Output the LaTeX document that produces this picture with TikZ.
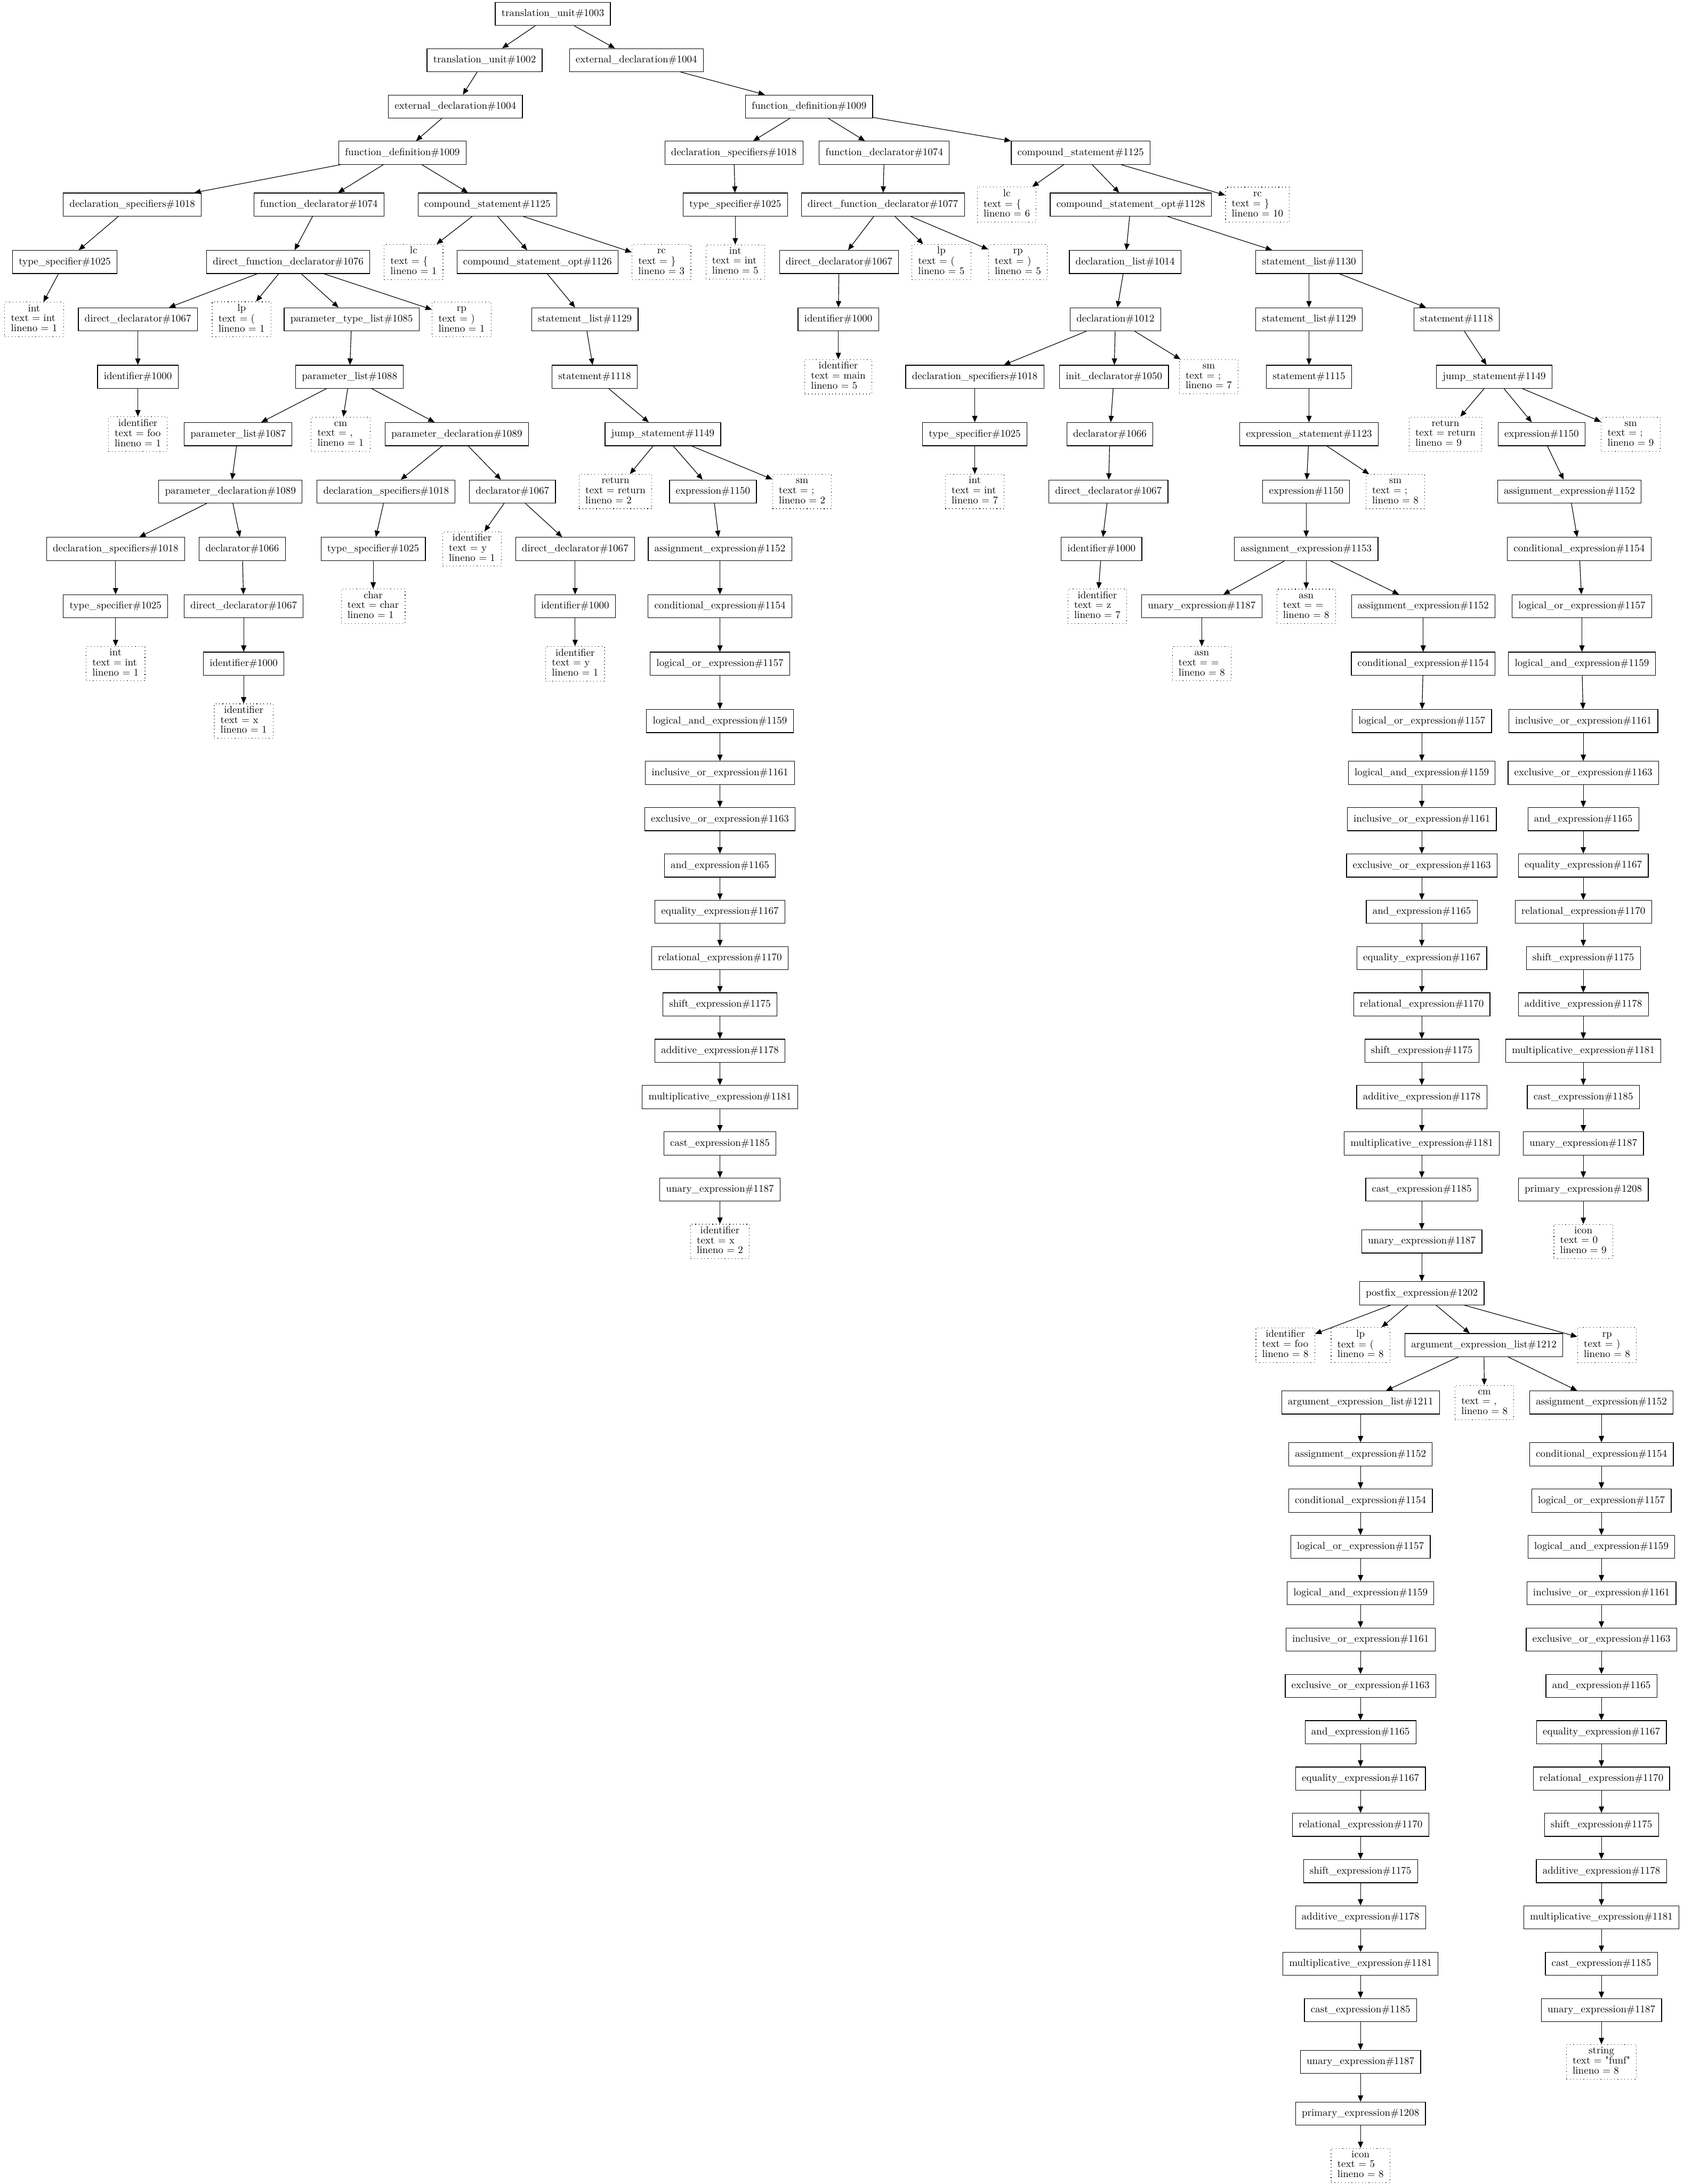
\documentclass[tikz,border=0pt]{standalone}
\usepackage{fontspec}
\usepackage{tikz}
\usetikzlibrary{arrows.meta}

\newfontfamily\nodefont{lmroman10-regular}[Extension=.otf]
\newcommand{\leaftext}[3]{\begin{tabular}{@{}l@{}}\multicolumn{1}{@{}c@{}}{#1}\\#2\\#3\end{tabular}}

\begin{document}
\begin{tikzpicture}[x=1pt, y=-1pt,
  tbox/.style={draw, line width=0.45pt, minimum height=16.6pt, minimum width=25pt,
    inner xsep=4.5pt, inner ysep=0pt, font=\nodefont\fontsize{7.3}{7.1}\selectfont},
  leaf/.style={draw, dotted, line width=0.45pt, minimum height=24.5pt, minimum width=25pt,
    inner xsep=4.5pt, inner ysep=1.6pt, font=\nodefont\fontsize{7.3}{7.1}\selectfont},
  arr/.style={-{Triangle[length=4.6pt,width=3.8pt]}, line width=0.45pt}]
\useasboundingbox (0,0) rectangle (1209,1568);

% top of the tree
\node[tbox] (tu3) at (397,10) {translation\_unit\#1003};
\node[tbox] (tu2) at (348,43.2) {translation\_unit\#1002};
\node[tbox] (edB) at (457,43.2) {external\_declaration\#1004};
\node[tbox] (edA) at (327,76.5) {external\_declaration\#1004};
\node[tbox] (fdB) at (581,76.5) {function\_definition\#1009};
\node[tbox] (fdA) at (289,109.7) {function\_definition\#1009};
\node[tbox] (dsB) at (527,109.7) {declaration\_specifiers\#1018};
\node[tbox] (fdcB) at (635,109.7) {function\_declarator\#1074};
\node[tbox] (csB) at (776,109.7) {compound\_statement\#1125};

\node[tbox] (dsA) at (95,146.9) {declaration\_specifiers\#1018};
\node[tbox] (fdcA) at (229,146.9) {function\_declarator\#1074};
\node[tbox] (csA) at (350,146.9) {compound\_statement\#1125};
\node[tbox] (tsB) at (528,146.9) {type\_specifier\#1025};
\node[tbox] (dfdB) at (634,146.9) {direct\_function\_declarator\#1077};
\node[leaf] (lcB) at (723,146.9) {\leaftext{lc}{text = \{}{lineno = 6}};
\node[tbox] (csoB) at (812,146.9) {compound\_statement\_opt\#1128};
\node[leaf] (rcB) at (903,146.9) {\leaftext{rc}{text = \}}{lineno = 10}};

\node[tbox] (tsA) at (46.5,188.1) {type\_specifier\#1025};
\node[tbox] (dfdA) at (207,188.1) {direct\_function\_declarator\#1076};
\node[leaf] (lcA) at (297,188.1) {\leaftext{lc}{text = \{}{lineno = 1}};
\node[tbox] (csoA) at (386,188.1) {compound\_statement\_opt\#1126};
\node[leaf] (rcA) at (475,188.1) {\leaftext{rc}{text = \}}{lineno = 3}};
\node[leaf] (intB) at (528,188.1) {\leaftext{int}{text = int}{lineno = 5}};
\node[tbox] (ddB) at (602.5,188.1) {direct\_declarator\#1067};
\node[leaf] (lpB) at (676,188.1) {\leaftext{lp}{text = (}{lineno = 5}};
\node[leaf] (rpB) at (731,188.1) {\leaftext{rp}{text = )}{lineno = 5}};
\node[tbox] (dlB) at (808,188.1) {declaration\_list\#1014};
\node[tbox] (slB) at (940,188.1) {statement\_list\#1130};

\node[leaf] (intA) at (24.5,229.3) {\leaftext{int}{text = int}{lineno = 1}};
\node[tbox] (ddA) at (99,229.3) {direct\_declarator\#1067};
\node[leaf] (lpA) at (173.5,229.3) {\leaftext{lp}{text = (}{lineno = 1}};
\node[tbox] (ptlA) at (252.5,229.3) {parameter\_type\_list\#1085};
\node[leaf] (rpA) at (331.5,229.3) {\leaftext{rp}{text = )}{lineno = 1}};
\node[tbox] (slA) at (420,229.3) {statement\_list\#1129};
\node[tbox] (idB) at (602,229.3) {identifier\#1000};
\node[tbox] (declB) at (801,229.3) {declaration\#1012};
\node[tbox] (slC) at (940,229.3) {statement\_list\#1129};
\node[tbox] (stC) at (1046,229.3) {statement\#1118};

\node[tbox] (idA) at (99,270.5) {identifier\#1000};
\node[tbox] (plA) at (251,270.5) {parameter\_list\#1088};
\node[tbox] (stA) at (427,270.5) {statement\#1118};
\node[leaf] (idmainB) at (602,270.5) {\leaftext{identifier}{text = main}{lineno = 5}};
\node[tbox] (dsD) at (700,270.5) {declaration\_specifiers\#1018};
\node[tbox] (initD) at (800,270.5) {init\_declarator\#1050};
\node[leaf] (smD) at (868,270.5) {\leaftext{sm}{text = ;}{lineno = 7}};
\node[tbox] (stD) at (940,270.5) {statement\#1115};
\node[tbox] (jsC) at (1073,270.5) {jump\_statement\#1149};

\node[leaf] (idfooA) at (99,311.7) {\leaftext{identifier}{text = foo}{lineno = 1}};
\node[tbox] (plA2) at (171,311.7) {parameter\_list\#1087};
\node[leaf] (cmA) at (244.6,311.7) {\leaftext{cm}{text = ,}{lineno = 1}};
\node[tbox] (pdA) at (328,311.7) {parameter\_declaration\#1089};
\node[tbox] (jsA) at (476,311.7) {jump\_statement\#1149};
\node[tbox] (tsD) at (700,311.7) {type\_specifier\#1025};
\node[tbox] (dclD) at (797,311.7) {declarator\#1066};
\node[tbox] (esD) at (940,311.7) {expression\_statement\#1123};
\node[leaf] (retC) at (1038,311.7) {\leaftext{return}{text = return}{lineno = 9}};
\node[tbox] (exC) at (1107,311.7) {expression\#1150};
\node[leaf] (smC) at (1171,311.7) {\leaftext{sm}{text = ;}{lineno = 9}};

\node[tbox] (pdA2) at (165.5,352.9) {parameter\_declaration\#1089};
\node[tbox] (dsA2) at (277.3,352.9) {declaration\_specifiers\#1018};
\node[tbox] (dclA) at (368,352.9) {declarator\#1067};
\node[leaf] (retA) at (442,352.9) {\leaftext{return}{text = return}{lineno = 2}};
\node[tbox] (exA) at (512,352.9) {expression\#1150};
\node[leaf] (smA) at (576,352.9) {\leaftext{sm}{text = ;}{lineno = 2}};
\node[leaf] (intD) at (700,352.9) {\leaftext{int}{text = int}{lineno = 7}};
\node[tbox] (ddD) at (796,352.9) {direct\_declarator\#1067};
\node[tbox] (exD) at (938,352.9) {expression\#1150};
\node[leaf] (smD2) at (1002,352.9) {\leaftext{sm}{text = ;}{lineno = 8}};

\node[tbox] (dsA3) at (83,394.1) {declaration\_specifiers\#1018};
\node[tbox] (dclA2) at (174,394.1) {declarator\#1066};
\node[tbox] (tsA2) at (268,394.1) {type\_specifier\#1025};
\node[leaf] (idyA) at (339,394.1) {\leaftext{identifier}{text = y}{lineno = 1}};
\node[tbox] (ddA2) at (413,394.1) {direct\_declarator\#1067};
\node[tbox] (idD) at (791,394.1) {identifier\#1000};
\node[tbox] (ae3D) at (938,394.1) {assignment\_expression\#1153};

\node[tbox] (tsA3) at (83,435.3) {type\_specifier\#1025};
\node[tbox] (ddA3) at (175,435.3) {direct\_declarator\#1067};
\node[leaf] (charA) at (268,435.3) {\leaftext{char}{text = char}{lineno = 1}};
\node[tbox] (idA2) at (413,435.3) {identifier\#1000};
\node[leaf] (idzD) at (788,435.3) {\leaftext{identifier}{text = z}{lineno = 7}};
\node[tbox] (ueD) at (863,435.3) {unary\_expression\#1187};
\node[leaf] (asnD) at (938,435.3) {\leaftext{asn}{text = =}{lineno = 8}};

\node[leaf] (intA2) at (83,476.5) {\leaftext{int}{text = int}{lineno = 1}};
\node[tbox] (idA3) at (175,476.5) {identifier\#1000};
\node[leaf] (idyA2) at (413,476.5) {\leaftext{identifier}{text = y}{lineno = 1}};
\node[leaf] (asnD2) at (863,476.5) {\leaftext{asn}{text = =}{lineno = 8}};

\node[leaf] (idxA) at (175,517.7) {\leaftext{identifier}{text = x}{lineno = 1}};

% expression chain of the first return
\node[tbox] (aeA) at (517,394.1) {assignment\_expression\#1152};
\node[tbox] (ceA) at (517,435.3) {conditional\_expression\#1154};
\node[tbox] (loA) at (517,476.5) {logical\_or\_expression\#1157};
\node[tbox] (laA) at (517,517.7) {logical\_and\_expression\#1159};
\node[tbox] (ioA) at (517,554.9) {inclusive\_or\_expression\#1161};
\node[tbox] (xoA) at (517,588.1) {exclusive\_or\_expression\#1163};
\node[tbox] (andA) at (517,621.4) {and\_expression\#1165};
\node[tbox] (eqA) at (517,654.6) {equality\_expression\#1167};
\node[tbox] (relA) at (517,687.9) {relational\_expression\#1170};
\node[tbox] (shA) at (517,721.1) {shift\_expression\#1175};
\node[tbox] (addA) at (517,754.4) {additive\_expression\#1178};
\node[tbox] (mulA) at (517,787.6) {multiplicative\_expression\#1181};
\node[tbox] (castA) at (517,820.9) {cast\_expression\#1185};
\node[tbox] (ueA) at (517,854.1) {unary\_expression\#1187};
\node[leaf] (idxA2) at (517,891.3) {\leaftext{identifier}{text = x}{lineno = 2}};

% expression chain of the assignment
\node[tbox] (aeM) at (1022,435.3) {assignment\_expression\#1152};
\node[tbox] (ceM) at (1022,476.5) {conditional\_expression\#1154};
\node[tbox] (loM) at (1021,517.7) {logical\_or\_expression\#1157};
\node[tbox] (laM) at (1021,554.9) {logical\_and\_expression\#1159};
\node[tbox] (ioM) at (1021,588.1) {inclusive\_or\_expression\#1161};
\node[tbox] (xoM) at (1021,621.4) {exclusive\_or\_expression\#1163};
\node[tbox] (andM) at (1021,654.6) {and\_expression\#1165};
\node[tbox] (eqM) at (1021,687.9) {equality\_expression\#1167};
\node[tbox] (relM) at (1021,721.1) {relational\_expression\#1170};
\node[tbox] (shM) at (1021,754.4) {shift\_expression\#1175};
\node[tbox] (addM) at (1021,787.6) {additive\_expression\#1178};
\node[tbox] (mulM) at (1021,820.9) {multiplicative\_expression\#1181};
\node[tbox] (castM) at (1021,854.1) {cast\_expression\#1185};
\node[tbox] (ueM) at (1021,891.3) {unary\_expression\#1187};
\node[tbox] (pfM) at (1021,928.5) {postfix\_expression\#1202};
\node[leaf] (idfooM) at (923,965.7) {\leaftext{identifier}{text = foo}{lineno = 8}};
\node[leaf] (lpM) at (977,965.7) {\leaftext{lp}{text = (}{lineno = 8}};
\node[tbox] (ael2M) at (1065.6,965.7) {argument\_expression\_list\#1212};
\node[leaf] (rpM) at (1154,965.7) {\leaftext{rp}{text = )}{lineno = 8}};
\node[tbox] (ael1L) at (977,1006.9) {argument\_expression\_list\#1211};
\node[leaf] (cmM) at (1066,1006.9) {\leaftext{cm}{text = ,}{lineno = 8}};

% expression chain of the second return
\node[tbox] (aeR) at (1127,352.9) {assignment\_expression\#1152};
\node[tbox] (ceR) at (1134,394.1) {conditional\_expression\#1154};
\node[tbox] (loR) at (1136,435.3) {logical\_or\_expression\#1157};
\node[tbox] (laR) at (1136,476.5) {logical\_and\_expression\#1159};
\node[tbox] (ioR) at (1137,517.7) {inclusive\_or\_expression\#1161};
\node[tbox] (xoR) at (1137,554.9) {exclusive\_or\_expression\#1163};
\node[tbox] (andR) at (1137,588.1) {and\_expression\#1165};
\node[tbox] (eqR) at (1137,621.4) {equality\_expression\#1167};
\node[tbox] (relR) at (1137,654.6) {relational\_expression\#1170};
\node[tbox] (shR) at (1137,687.9) {shift\_expression\#1175};
\node[tbox] (addR) at (1137,721.1) {additive\_expression\#1178};
\node[tbox] (mulR) at (1137,754.4) {multiplicative\_expression\#1181};
\node[tbox] (castR) at (1137,787.6) {cast\_expression\#1185};
\node[tbox] (ueR) at (1137,820.9) {unary\_expression\#1187};
\node[tbox] (prR) at (1137,854.1) {primary\_expression\#1208};
\node[leaf] (iconR) at (1137,891.3) {\leaftext{icon}{text = 0}{lineno = 9}};

% first argument
\node[tbox] (aeL) at (977,1044.1) {assignment\_expression\#1152};
\node[tbox] (ceL) at (977,1077.4) {conditional\_expression\#1154};
\node[tbox] (loL) at (977,1110.6) {logical\_or\_expression\#1157};
\node[tbox] (laL) at (977,1143.9) {logical\_and\_expression\#1159};
\node[tbox] (ioL) at (977,1177.1) {inclusive\_or\_expression\#1161};
\node[tbox] (xoL) at (977,1210.4) {exclusive\_or\_expression\#1163};
\node[tbox] (andL) at (977,1243.6) {and\_expression\#1165};
\node[tbox] (eqL) at (977,1276.9) {equality\_expression\#1167};
\node[tbox] (relL) at (977,1310.1) {relational\_expression\#1170};
\node[tbox] (shL) at (977,1343.4) {shift\_expression\#1175};
\node[tbox] (addL) at (977,1376.6) {additive\_expression\#1178};
\node[tbox] (mulL) at (977,1409.9) {multiplicative\_expression\#1181};
\node[tbox] (castL) at (977,1443.1) {cast\_expression\#1185};
\node[tbox] (ueL) at (977,1480.3) {unary\_expression\#1187};
\node[tbox] (prL) at (977,1517.5) {primary\_expression\#1208};
\node[leaf] (iconL) at (977,1554.7) {\leaftext{icon}{text = 5}{lineno = 8}};

% second argument
\node[tbox] (aeS) at (1150,1006.9) {assignment\_expression\#1152};
\node[tbox] (ceS) at (1150,1044.1) {conditional\_expression\#1154};
\node[tbox] (loS) at (1150,1077.4) {logical\_or\_expression\#1157};
\node[tbox] (laS) at (1150,1110.6) {logical\_and\_expression\#1159};
\node[tbox] (ioS) at (1150,1143.9) {inclusive\_or\_expression\#1161};
\node[tbox] (xoS) at (1150,1177.1) {exclusive\_or\_expression\#1163};
\node[tbox] (andS) at (1150,1210.4) {and\_expression\#1165};
\node[tbox] (eqS) at (1150,1243.6) {equality\_expression\#1167};
\node[tbox] (relS) at (1150,1276.9) {relational\_expression\#1170};
\node[tbox] (shS) at (1150,1310.1) {shift\_expression\#1175};
\node[tbox] (addS) at (1150,1343.4) {additive\_expression\#1178};
\node[tbox] (mulS) at (1150,1376.6) {multiplicative\_expression\#1181};
\node[tbox] (castS) at (1150,1409.9) {cast\_expression\#1185};
\node[tbox] (ueS) at (1150,1443.1) {unary\_expression\#1187};
\node[leaf] (strS) at (1150,1480.3) {\leaftext{string}{text = "funf"}{lineno = 8}};

% edges
\draw[arr] (tu3) -- (tu2);
\draw[arr] (tu3) -- (edB);
\draw[arr] (tu2) -- (edA);
\draw[arr] (edA) -- (fdA);
\draw[arr] (edB) -- (fdB);
\draw[arr] (fdA) -- (dsA);
\draw[arr] (fdA) -- (fdcA);
\draw[arr] (fdA) -- (csA);
\draw[arr] (dsA) -- (tsA);
\draw[arr] (tsA) -- (intA);
\draw[arr] (fdcA) -- (dfdA);
\draw[arr] (dfdA) -- (ddA);
\draw[arr] (dfdA) -- (lpA);
\draw[arr] (dfdA) -- (ptlA);
\draw[arr] (dfdA) -- (rpA);
\draw[arr] (ddA) -- (idA);
\draw[arr] (idA) -- (idfooA);
\draw[arr] (ptlA) -- (plA);
\draw[arr] (plA) -- (plA2);
\draw[arr] (plA) -- (cmA);
\draw[arr] (plA) -- (pdA);
\draw[arr] (plA2) -- (pdA2);
\draw[arr] (pdA2) -- (dsA3);
\draw[arr] (pdA2) -- (dclA2);
\draw[arr] (dsA3) -- (tsA3);
\draw[arr] (tsA3) -- (intA2);
\draw[arr] (dclA2) -- (ddA3);
\draw[arr] (ddA3) -- (idA3);
\draw[arr] (idA3) -- (idxA);
\draw[arr] (pdA) -- (dsA2);
\draw[arr] (pdA) -- (dclA);
\draw[arr] (dsA2) -- (tsA2);
\draw[arr] (tsA2) -- (charA);
\draw[arr] (dclA) -- (idyA);
\draw[arr] (dclA) -- (ddA2);
\draw[arr] (ddA2) -- (idA2);
\draw[arr] (idA2) -- (idyA2);
\draw[arr] (csA) -- (lcA);
\draw[arr] (csA) -- (csoA);
\draw[arr] (csA) -- (rcA);
\draw[arr] (csoA) -- (slA);
\draw[arr] (slA) -- (stA);
\draw[arr] (stA) -- (jsA);
\draw[arr] (jsA) -- (retA);
\draw[arr] (jsA) -- (exA);
\draw[arr] (jsA) -- (smA);
\draw[arr] (exA) -- (aeA);
\draw[arr] (aeA) -- (ceA);
\draw[arr] (ceA) -- (loA);
\draw[arr] (loA) -- (laA);
\draw[arr] (laA) -- (ioA);
\draw[arr] (ioA) -- (xoA);
\draw[arr] (xoA) -- (andA);
\draw[arr] (andA) -- (eqA);
\draw[arr] (eqA) -- (relA);
\draw[arr] (relA) -- (shA);
\draw[arr] (shA) -- (addA);
\draw[arr] (addA) -- (mulA);
\draw[arr] (mulA) -- (castA);
\draw[arr] (castA) -- (ueA);
\draw[arr] (ueA) -- (idxA2);

\draw[arr] (fdB) -- (dsB);
\draw[arr] (fdB) -- (fdcB);
\draw[arr] (fdB) -- (csB);
\draw[arr] (dsB) -- (tsB);
\draw[arr] (tsB) -- (intB);
\draw[arr] (fdcB) -- (dfdB);
\draw[arr] (dfdB) -- (ddB);
\draw[arr] (dfdB) -- (lpB);
\draw[arr] (dfdB) -- (rpB);
\draw[arr] (ddB) -- (idB);
\draw[arr] (idB) -- (idmainB);
\draw[arr] (csB) -- (lcB);
\draw[arr] (csB) -- (csoB);
\draw[arr] (csB) -- (rcB);
\draw[arr] (csoB) -- (dlB);
\draw[arr] (csoB) -- (slB);
\draw[arr] (dlB) -- (declB);
\draw[arr] (declB) -- (dsD);
\draw[arr] (declB) -- (initD);
\draw[arr] (declB) -- (smD);
\draw[arr] (dsD) -- (tsD);
\draw[arr] (tsD) -- (intD);
\draw[arr] (initD) -- (dclD);
\draw[arr] (dclD) -- (ddD);
\draw[arr] (ddD) -- (idD);
\draw[arr] (idD) -- (idzD);
\draw[arr] (slB) -- (slC);
\draw[arr] (slB) -- (stC);
\draw[arr] (slC) -- (stD);
\draw[arr] (stD) -- (esD);
\draw[arr] (esD) -- (exD);
\draw[arr] (esD) -- (smD2);
\draw[arr] (exD) -- (ae3D);
\draw[arr] (ae3D) -- (ueD);
\draw[arr] (ae3D) -- (asnD);
\draw[arr] (ae3D) -- (aeM);
\draw[arr] (ueD) -- (asnD2);
\draw[arr] (aeM) -- (ceM);
\draw[arr] (ceM) -- (loM);
\draw[arr] (loM) -- (laM);
\draw[arr] (laM) -- (ioM);
\draw[arr] (ioM) -- (xoM);
\draw[arr] (xoM) -- (andM);
\draw[arr] (andM) -- (eqM);
\draw[arr] (eqM) -- (relM);
\draw[arr] (relM) -- (shM);
\draw[arr] (shM) -- (addM);
\draw[arr] (addM) -- (mulM);
\draw[arr] (mulM) -- (castM);
\draw[arr] (castM) -- (ueM);
\draw[arr] (ueM) -- (pfM);
\draw[arr] (pfM) -- (idfooM);
\draw[arr] (pfM) -- (lpM);
\draw[arr] (pfM) -- (ael2M);
\draw[arr] (pfM) -- (rpM);
\draw[arr] (ael2M) -- (ael1L);
\draw[arr] (ael2M) -- (cmM);
\draw[arr] (ael2M) -- (aeS);
\draw[arr] (ael1L) -- (aeL);
\draw[arr] (aeL) -- (ceL);
\draw[arr] (ceL) -- (loL);
\draw[arr] (loL) -- (laL);
\draw[arr] (laL) -- (ioL);
\draw[arr] (ioL) -- (xoL);
\draw[arr] (xoL) -- (andL);
\draw[arr] (andL) -- (eqL);
\draw[arr] (eqL) -- (relL);
\draw[arr] (relL) -- (shL);
\draw[arr] (shL) -- (addL);
\draw[arr] (addL) -- (mulL);
\draw[arr] (mulL) -- (castL);
\draw[arr] (castL) -- (ueL);
\draw[arr] (ueL) -- (prL);
\draw[arr] (prL) -- (iconL);
\draw[arr] (aeS) -- (ceS);
\draw[arr] (ceS) -- (loS);
\draw[arr] (loS) -- (laS);
\draw[arr] (laS) -- (ioS);
\draw[arr] (ioS) -- (xoS);
\draw[arr] (xoS) -- (andS);
\draw[arr] (andS) -- (eqS);
\draw[arr] (eqS) -- (relS);
\draw[arr] (relS) -- (shS);
\draw[arr] (shS) -- (addS);
\draw[arr] (addS) -- (mulS);
\draw[arr] (mulS) -- (castS);
\draw[arr] (castS) -- (ueS);
\draw[arr] (ueS) -- (strS);
\draw[arr] (stC) -- (jsC);
\draw[arr] (jsC) -- (retC);
\draw[arr] (jsC) -- (exC);
\draw[arr] (jsC) -- (smC);
\draw[arr] (exC) -- (aeR);
\draw[arr] (aeR) -- (ceR);
\draw[arr] (ceR) -- (loR);
\draw[arr] (loR) -- (laR);
\draw[arr] (laR) -- (ioR);
\draw[arr] (ioR) -- (xoR);
\draw[arr] (xoR) -- (andR);
\draw[arr] (andR) -- (eqR);
\draw[arr] (eqR) -- (relR);
\draw[arr] (relR) -- (shR);
\draw[arr] (shR) -- (addR);
\draw[arr] (addR) -- (mulR);
\draw[arr] (mulR) -- (castR);
\draw[arr] (castR) -- (ueR);
\draw[arr] (ueR) -- (prR);
\draw[arr] (prR) -- (iconR);
\end{tikzpicture}
\end{document}
